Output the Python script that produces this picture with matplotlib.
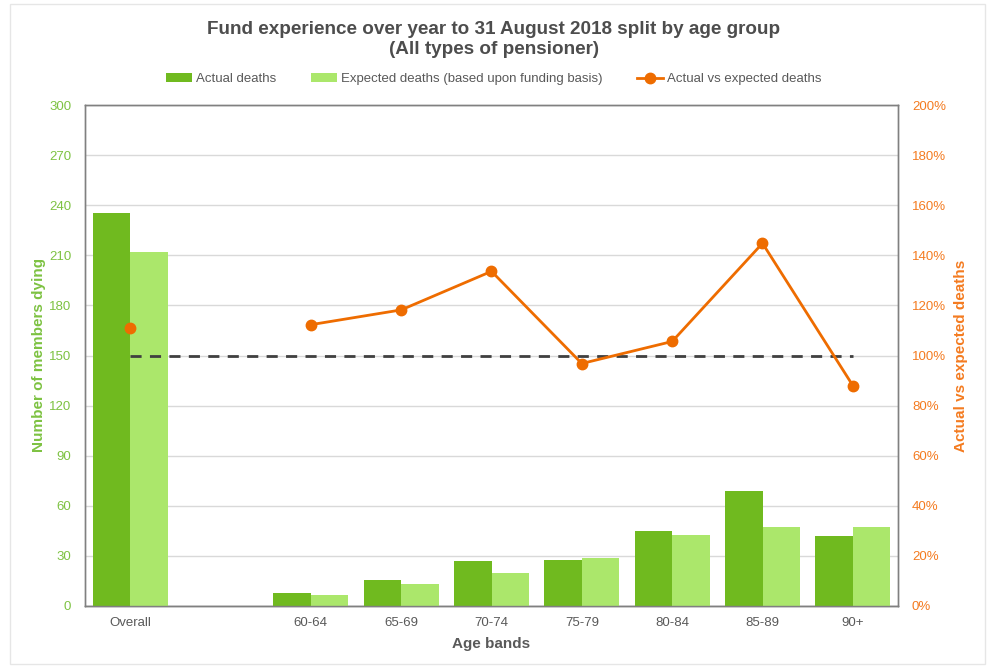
import matplotlib.pyplot as plt
import numpy as np

plt.rcParams['font.family'] = ['Liberation Sans', 'DejaVu Sans']

# data
age_bands = ['Overall', '', '60-64', '65-69', '70-74', '75-79', '80-84', '85-89', '90+']
actual_deaths = [235.5, 0, 8, 15.7, 27, 27.7, 44.8, 68.8, 41.7]
expected_deaths = [212, 0, 6.8, 13.2, 20, 28.7, 42.3, 47.2, 47.3]
actual_vs_expected = [111, np.nan, 112.3, 118.2, 133.6, 96.8, 105.6, 144.8, 88]
benchmark = [100, 100, 100, 100, 100, 100, 100, 100, 100]

dark_green = '#70BA1F'
light_green = '#ABE76B'
orange = '#EE6C00'
txt_gray = '#595959'

fig = plt.figure(figsize=(9.88, 6.67), dpi=100)
ax = fig.add_axes([85/988, 61/667, 813/988, 501/667])
ax2 = ax.twinx()

x = np.arange(len(age_bands))
w = 0.415
b1 = ax.bar(x - w/2, actual_deaths, w, color=dark_green, label='Actual deaths', zorder=3)
b2 = ax.bar(x + w/2, expected_deaths, w, color=light_green, label='Expected deaths (based upon funding basis)', zorder=3)

ax2.plot(x, benchmark, ls=(0, (4, 3)), color='#404040', lw=2, zorder=2)
ln, = ax2.plot(x, actual_vs_expected, color=orange, lw=2, marker='o', ms=7.5,
               label='Actual vs expected deaths', zorder=4)

ax.set_xlim(-0.5, len(age_bands) - 0.5)
ax.set_ylim(0, 300)
ax.set_yticks(range(0, 301, 30))
ax2.set_ylim(0, 200)
ax2.set_yticks(range(0, 201, 20))
ax2.set_yticklabels([f'{v}%' for v in range(0, 201, 20)])

ax.set_xticks(x)
ax.set_xticklabels(age_bands)
ax.grid(axis='y', color='#D9D9D9', lw=1, zorder=0)
ax.set_axisbelow(True)

ax.tick_params(axis='x', length=0, labelsize=9.5, labelcolor=txt_gray, pad=8)
ax.tick_params(axis='y', length=0, labelsize=9.5, labelcolor='#7DC242', pad=10)
ax2.tick_params(axis='y', length=0, labelsize=9.5, labelcolor='#F47B20', pad=10)

for a in (ax, ax2):
    for s in a.spines.values():
        s.set_color('#808080')
        s.set_linewidth(1)
ax.spines['bottom'].set_color('#595959')

ax.set_ylabel('Number of members dying', color='#7DC242', fontsize=11, fontweight='bold')
ax.yaxis.set_label_coords(-0.048, 0.5)
ax2.set_ylabel('Actual vs expected deaths', color='#F47B20', fontsize=11, fontweight='bold',
               rotation=90, va='center')
ax2.yaxis.set_label_coords(1.077, 0.5)
ax.set_xlabel('Age bands', color=txt_gray, fontsize=11, fontweight='bold', labelpad=6)

fig.suptitle('Fund experience over year to 31 August 2018 split by age group\n(All types of pensioner)',
             y=1 - 21/667, fontsize=13.6, fontweight='bold', color='#4D4D4D', linespacing=1.2)

fig.legend(handles=[b1, b2, ln], loc='center', bbox_to_anchor=(0.5, 1 - 79/667), ncol=3,
           frameon=False, fontsize=9.5, handlelength=2.0, handleheight=0.6,
           columnspacing=2.6, handletextpad=0.3, labelcolor=txt_gray)

fig.patches.append(plt.Rectangle((10/988, 3/667), 975/988, 660/667, transform=fig.transFigure,
                                 fill=False, edgecolor='#E6E6E6', lw=1))

fig.savefig('out.png', dpi=100)
